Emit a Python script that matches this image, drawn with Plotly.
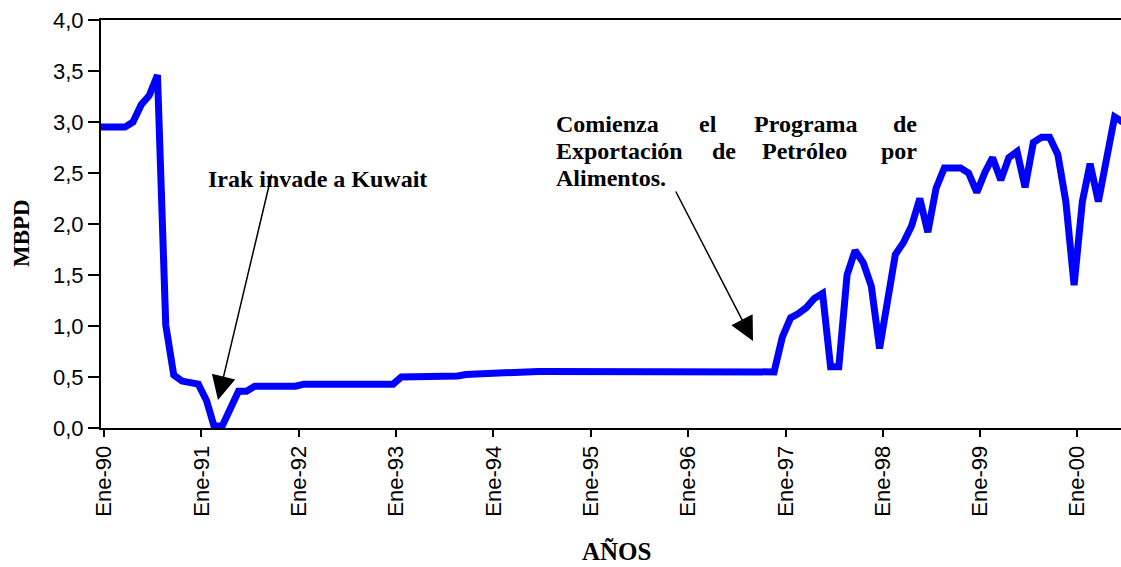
import pandas as pd
import plotly.graph_objects as go

# ---- data ----
months = pd.date_range("1990-01-01", periods=127, freq="MS")
production = [
    2.95, 2.95, 2.95, 2.95, 3.00, 3.17, 3.26, 3.46, 1.01, 0.52, 0.46, 0.44,   # 1990
    0.43, 0.27, 0.02, 0.02, 0.19, 0.36, 0.36, 0.41, 0.41, 0.41, 0.41, 0.41,   # 1991
    0.41, 0.43, 0.43, 0.43, 0.43, 0.43, 0.43, 0.43, 0.43, 0.43, 0.43, 0.43,   # 1992
    0.43, 0.50, 0.50, 0.50, 0.50, 0.50, 0.50, 0.50, 0.51, 0.525, 0.53, 0.535, # 1993
    0.54, 0.545, 0.545, 0.545, 0.555, 0.555, 0.555, 0.555, 0.555, 0.555, 0.555, 0.555,  # 1994
    0.56, 0.56, 0.56, 0.56, 0.56, 0.56, 0.56, 0.56, 0.56, 0.56, 0.56, 0.56,   # 1995
    0.55, 0.55, 0.55, 0.55, 0.55, 0.55, 0.55, 0.55, 0.55, 0.55, 0.55, 0.55,   # 1996
    0.89, 1.08, 1.12, 1.18, 1.27, 1.32, 0.60, 0.60, 1.50, 1.74, 1.62, 1.39,   # 1997
    0.78, 1.24, 1.70, 1.82, 1.98, 2.25, 1.92, 2.35, 2.55, 2.55, 2.55, 2.50,   # 1998
    2.31, 2.51, 2.65, 2.43, 2.65, 2.71, 2.36, 2.80, 2.85, 2.85, 2.68, 2.22,   # 1999
    1.40, 2.22, 2.59, 2.22, 2.64, 3.05, 3.00,                                 # 2000
]
tick_years = list(range(1990, 2001))
tick_labels = ["Ene-%02d" % (y % 100) for y in tick_years]
y_ticks = [0, 0.5, 1, 1.5, 2, 2.5, 3, 3.5, 4]

x_title = "AÑOS"
y_title = "MBPD"
note1 = "Irak invade a Kuwait"
note2_lines = [["Comienza", "el", "Programa", "de"],
               ["Exportación", "de", "Petróleo", "por"],
               ["Alimentos."]]

# ---- figure ----
W, H = 1121, 567
L, R, T, B = 101, 0, 20, 139
PW, PH = W - L - R, H - T - B

def px(x):
    return (x - L) / PW

def py(y):
    return (H - B - y) / PH

fig = go.Figure()
fig.add_trace(go.Scatter(
    x=months, y=production, mode="lines",
    line=dict(color="#0000FF", width=7), hoverinfo="skip", showlegend=False,
))

serif_b = dict(family="Liberation Serif", size=24, color="black")

annotations = []
# axis titles
annotations.append(dict(text="<b>%s</b>" % y_title, xref="paper", yref="paper",
                        x=px(22), y=py(233), textangle=-90, showarrow=False,
                        xanchor="center", yanchor="middle",
                        font=dict(family="Liberation Serif", size=23, color="black")))
annotations.append(dict(text="<b>%s</b>" % x_title, xref="paper", yref="paper",
                        x=px(616), y=py(551), showarrow=False,
                        xanchor="center", yanchor="middle",
                        font=dict(family="Liberation Serif", size=25, color="black")))
# note 1
annotations.append(dict(text="<b>%s</b>" % note1, xref="paper", yref="paper",
                        x=px(206), y=py(179), xanchor="left", yanchor="middle",
                        showarrow=False, font=serif_b))
# note 2 (justified text, word by word)
line_y = [124, 151, 178]
word_x = [[(554, "left"), (697, "left"), (752, "left"), (919, "right")],
          [(554, "left"), (710, "left"), (760, "left"), (919, "right")],
          [(554, "left")]]
for words, xs, yy in zip(note2_lines, word_x, line_y):
    for w, (xx, anc) in zip(words, xs):
        annotations.append(dict(text="<b>%s</b>" % w, xref="paper", yref="paper",
                                x=px(xx), y=py(yy), xanchor=anc, yanchor="middle",
                                showarrow=False, font=serif_b))
# arrows
annotations.append(dict(text="", xref="paper", yref="paper", x=px(218), y=py(400),
                        ax=272 - 218, ay=173 - 400, showarrow=True, arrowhead=2,
                        arrowsize=3.2, arrowwidth=1.5, arrowcolor="black"))
annotations.append(dict(text="", xref="paper", yref="paper", x=px(753), y=py(341),
                        ax=675 - 753, ay=190 - 341, showarrow=True, arrowhead=2,
                        arrowsize=3.2, arrowwidth=1.5, arrowcolor="black"))

fig.update_layout(
    width=W, height=H,
    margin=dict(l=L, r=R, t=T, b=B, pad=0, autoexpand=False),
    paper_bgcolor="white", plot_bgcolor="white",
    separators=",.",
    annotations=annotations,
    font=dict(family="Liberation Sans", size=22, color="black"),
)
fig.update_xaxes(
    type="date",
    range=["1990-01-01", "2000-06-25"],
    tickvals=["%d-01-13" % y for y in tick_years],
    ticktext=tick_labels,
    tickangle=-90,
    ticks="outside", ticklen=7, tickwidth=2, tickcolor="black",
    showline=True, linewidth=2, linecolor="black", mirror=True,
    showgrid=False, zeroline=False, automargin=False,
    tickfont=dict(family="Liberation Sans", size=22, color="black"),
)
fig.update_yaxes(
    range=[0, 4],
    tickvals=y_ticks,
    tickformat=".1f",
    ticks="outside", ticklen=11, tickwidth=2, tickcolor="black",
    showline=True, linewidth=2, linecolor="black", mirror=False,
    showgrid=False, zeroline=False, automargin=False,
    tickfont=dict(family="Liberation Sans", size=22, color="black"),
)

fig.write_html("out.html",
               config={"displayModeBar": False},
               post_script="document.body.style.margin='0';"
                           "document.body.style.overflow='hidden';")
